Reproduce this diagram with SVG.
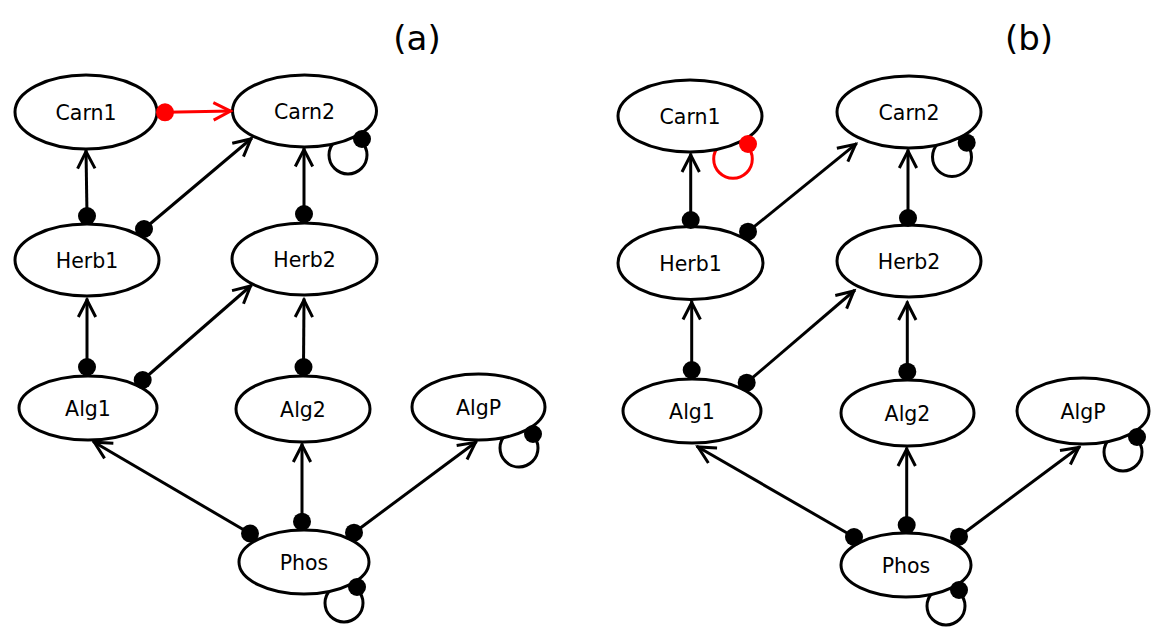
<svg xmlns="http://www.w3.org/2000/svg" xmlns:xlink="http://www.w3.org/1999/xlink" width="1166" height="640" viewBox="0 0 1166 640">
<style>
.bg{fill:#ffffff}
.node ellipse{fill:#ffffff;stroke:#000000;stroke-width:3}
.node text{font-family:"DejaVu Sans","Liberation Sans",sans-serif;font-size:20.5px;fill:#000000;text-anchor:middle}
.title{font-family:"DejaVu Sans","Liberation Sans",sans-serif;font-size:34px;fill:#000000;text-anchor:middle}
.edge{fill:none;stroke:#000000;stroke-width:3}
.edge.red{stroke:#ff0000}
.dot{fill:#000000}
.dot.red{fill:#ff0000}
.ah{fill:none;stroke:#000000;stroke-width:3}
.ah.red{stroke:#ff0000}
</style>
<defs>
<path id="arrow" d="M-18.5,-8.7 L-1.5,0 L-18.5,8.7"/>
<circle id="tail" r="9" cx="0" cy="0"/>
</defs>
<rect class="bg" x="0" y="0" width="1166" height="640"/>
<text class="title" x="417" y="50">(a)</text>
<text class="title" x="1029" y="50">(b)</text>

<g id="connectors">
  <line class="edge" x1="87" y1="216" x2="86" y2="150"/>
  <line class="edge" x1="144" y1="229" x2="252" y2="138"/>
  <line class="edge" x1="304" y1="214" x2="304" y2="148"/>
  <line class="edge red" x1="165" y1="112.3" x2="232" y2="111"/>
  <circle class="edge" cx="348" cy="155" r="19"/>
  <line class="edge" x1="87" y1="367" x2="87" y2="298.5"/>
  <line class="edge" x1="142.7" y1="380" x2="251.7" y2="285"/>
  <line class="edge" x1="303.5" y1="367" x2="304" y2="298.5"/>
  <line class="edge" x1="250" y1="533.5" x2="93" y2="441.5"/>
  <line class="edge" x1="302" y1="521.7" x2="302" y2="443.5"/>
  <line class="edge" x1="354" y1="532.7" x2="476.7" y2="441.5"/>
  <circle class="edge" cx="519" cy="448" r="19"/>
  <circle class="edge" cx="344" cy="603" r="19"/>
  <line class="edge" x1="690.7" y1="220" x2="690.7" y2="153.5"/>
  <line class="edge" x1="748" y1="231.7" x2="856.7" y2="143.3"/>
  <line class="edge" x1="908" y1="218" x2="908" y2="149.5"/>
  <circle class="edge red" cx="733" cy="159" r="19.3"/>
  <circle class="edge" cx="952" cy="157" r="19.5"/>
  <line class="edge" x1="691.7" y1="370" x2="691.7" y2="301"/>
  <line class="edge" x1="746.7" y1="382.7" x2="855" y2="290"/>
  <line class="edge" x1="907.3" y1="371.7" x2="907.3" y2="301.5"/>
  <line class="edge" x1="854" y1="537" x2="696.7" y2="446.2"/>
  <line class="edge" x1="906.7" y1="525" x2="906.7" y2="447.5"/>
  <line class="edge" x1="959" y1="536.7" x2="1080" y2="446.5"/>
  <circle class="edge" cx="1123" cy="452" r="19"/>
  <circle class="edge" cx="946" cy="606" r="19"/>
</g>

<g id="nodes">
  <g id="a-Carn1" class="node"><ellipse cx="86" cy="112" rx="71" ry="37"/><text x="86" y="119.5">Carn1</text></g>
  <g id="a-Carn2" class="node"><ellipse cx="304.5" cy="111" rx="72" ry="36"/><text x="304.5" y="118.5">Carn2</text></g>
  <g id="a-Herb1" class="node"><ellipse cx="87" cy="260" rx="72" ry="36"/><text x="87" y="267.5">Herb1</text></g>
  <g id="a-Herb2" class="node"><ellipse cx="304.5" cy="259" rx="72.5" ry="36"/><text x="304.5" y="266.5">Herb2</text></g>
  <g id="a-Alg1" class="node"><ellipse cx="88" cy="408" rx="69" ry="32"/><text x="88" y="415.5">Alg1</text></g>
  <g id="a-Alg2" class="node"><ellipse cx="303" cy="409" rx="67" ry="33"/><text x="303" y="416.5">Alg2</text></g>
  <g id="a-AlgP" class="node"><ellipse cx="478.5" cy="407" rx="66.5" ry="33"/><text x="478.5" y="414.5">AlgP</text></g>
  <g id="a-Phos" class="node"><ellipse cx="304" cy="562" rx="65" ry="32"/><text x="304" y="569.5">Phos</text></g>

  <g id="b-Carn1" class="node"><ellipse cx="690" cy="116" rx="72" ry="36"/><text x="690" y="123.5">Carn1</text></g>
  <g id="b-Carn2" class="node"><ellipse cx="909" cy="112" rx="72" ry="36"/><text x="909" y="119.5">Carn2</text></g>
  <g id="b-Herb1" class="node"><ellipse cx="690.5" cy="263" rx="72.5" ry="36.5"/><text x="690.5" y="270.5">Herb1</text></g>
  <g id="b-Herb2" class="node"><ellipse cx="909" cy="261" rx="72" ry="36"/><text x="909" y="268.5">Herb2</text></g>
  <g id="b-Alg1" class="node"><ellipse cx="692" cy="411" rx="69" ry="32"/><text x="692" y="418.5">Alg1</text></g>
  <g id="b-Alg2" class="node"><ellipse cx="907.5" cy="413" rx="66.5" ry="33"/><text x="907.5" y="420.5">Alg2</text></g>
  <g id="b-AlgP" class="node"><ellipse cx="1083" cy="411" rx="66" ry="33"/><text x="1083" y="418.5">AlgP</text></g>
  <g id="b-Phos" class="node"><ellipse cx="906" cy="565" rx="65" ry="32"/><text x="906" y="572.5">Phos</text></g>
</g>

<g id="connector-ends">
  <use xlink:href="#tail" class="dot" x="87" y="216"/>
  <use xlink:href="#tail" class="dot" x="144" y="229"/>
  <use xlink:href="#tail" class="dot" x="304" y="214"/>
  <use xlink:href="#tail" class="dot red" x="165" y="112.3"/>
  <use xlink:href="#tail" class="dot" x="362" y="139"/>
  <use xlink:href="#tail" class="dot" x="87" y="367"/>
  <use xlink:href="#tail" class="dot" x="142.7" y="380"/>
  <use xlink:href="#tail" class="dot" x="303.5" y="367"/>
  <use xlink:href="#tail" class="dot" x="250" y="533.5"/>
  <use xlink:href="#tail" class="dot" x="302" y="521.7"/>
  <use xlink:href="#tail" class="dot" x="354" y="532.7"/>
  <use xlink:href="#tail" class="dot" x="533" y="434"/>
  <use xlink:href="#tail" class="dot" x="357" y="587"/>
  <use xlink:href="#arrow" class="ah" transform="translate(86,150) rotate(-90.9)"/>
  <use xlink:href="#arrow" class="ah" transform="translate(252,138) rotate(-40.1)"/>
  <use xlink:href="#arrow" class="ah" transform="translate(304,148) rotate(-90)"/>
  <use xlink:href="#arrow" class="ah red" transform="translate(232,111) rotate(-1.1)"/>
  <use xlink:href="#arrow" class="ah" transform="translate(87,298.5) rotate(-90)"/>
  <use xlink:href="#arrow" class="ah" transform="translate(251.7,285) rotate(-41.1)"/>
  <use xlink:href="#arrow" class="ah" transform="translate(304,298.5) rotate(-89.6)"/>
  <use xlink:href="#arrow" class="ah" transform="translate(93,441.5) rotate(-149.6)"/>
  <use xlink:href="#arrow" class="ah" transform="translate(302,443.5) rotate(-90)"/>
  <use xlink:href="#arrow" class="ah" transform="translate(476.7,441.5) rotate(-36.6)"/>
  <use xlink:href="#tail" class="dot" x="690.7" y="220"/>
  <use xlink:href="#tail" class="dot" x="748" y="231.7"/>
  <use xlink:href="#tail" class="dot" x="908" y="218"/>
  <use xlink:href="#tail" class="dot red" x="748" y="144"/>
  <use xlink:href="#tail" class="dot" x="966.7" y="142.7"/>
  <use xlink:href="#tail" class="dot" x="691.7" y="370"/>
  <use xlink:href="#tail" class="dot" x="746.7" y="382.7"/>
  <use xlink:href="#tail" class="dot" x="907.3" y="371.7"/>
  <use xlink:href="#tail" class="dot" x="854" y="537"/>
  <use xlink:href="#tail" class="dot" x="906.7" y="525"/>
  <use xlink:href="#tail" class="dot" x="959" y="536.7"/>
  <use xlink:href="#tail" class="dot" x="1137" y="437"/>
  <use xlink:href="#tail" class="dot" x="959" y="590"/>
  <use xlink:href="#arrow" class="ah" transform="translate(690.7,153.5) rotate(-90)"/>
  <use xlink:href="#arrow" class="ah" transform="translate(856.7,143.3) rotate(-39.1)"/>
  <use xlink:href="#arrow" class="ah" transform="translate(908,149.5) rotate(-90)"/>
  <use xlink:href="#arrow" class="ah" transform="translate(691.7,301) rotate(-90)"/>
  <use xlink:href="#arrow" class="ah" transform="translate(855,290) rotate(-40.6)"/>
  <use xlink:href="#arrow" class="ah" transform="translate(907.3,301.5) rotate(-90)"/>
  <use xlink:href="#arrow" class="ah" transform="translate(696.7,446.2) rotate(-150.0)"/>
  <use xlink:href="#arrow" class="ah" transform="translate(906.7,447.5) rotate(-90)"/>
  <use xlink:href="#arrow" class="ah" transform="translate(1080,446.5) rotate(-36.7)"/>
</g>
</svg>
